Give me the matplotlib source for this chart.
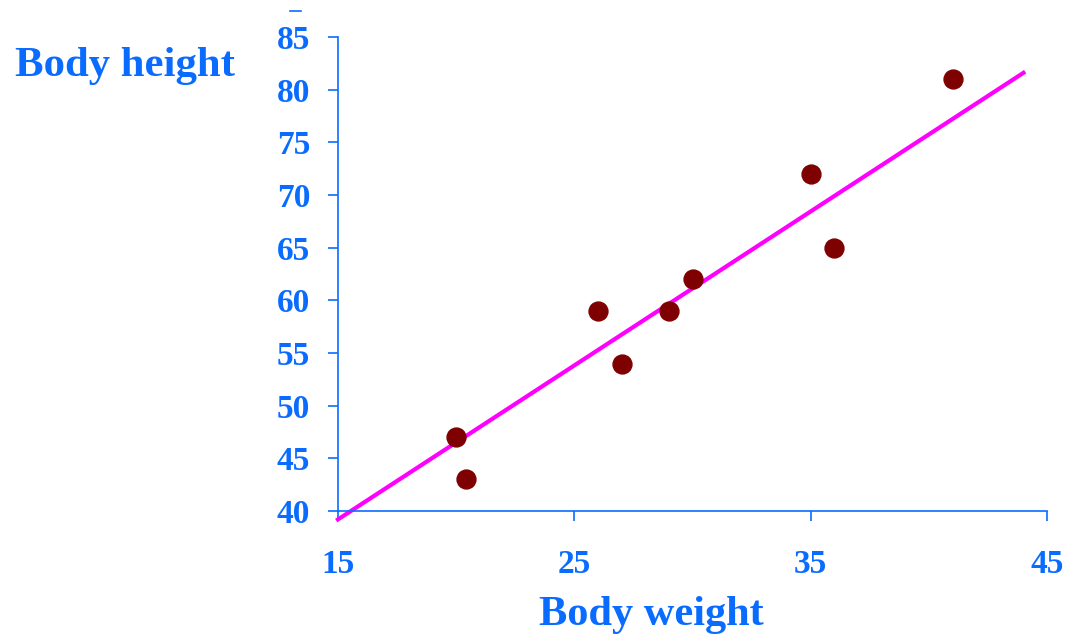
import matplotlib.pyplot as plt
from matplotlib.lines import Line2D

# data
weight = [20, 20.4, 26, 27, 29, 30, 35, 36, 41]
height = [47, 43, 59, 54, 59, 62, 72, 65, 81]
# the straight line as drawn (endpoints)
line_x = [15, 44]
line_y = [39.2, 81.6]
xticks = [15, 25, 35, 45]
yticks = [40, 45, 50, 55, 60, 65, 70, 75, 80, 85]

blue = '#0a6cff'
plt.rcParams['font.family'] = ['Liberation Serif', 'DejaVu Serif']
plt.rcParams['font.weight'] = 'bold'

fig = plt.figure(figsize=(10.76, 6.37), dpi=100)
ax = fig.add_axes([0.3141, 0.1978, 0.659, 0.7441])

ax.plot(line_x, line_y, color='#ff00ff', lw=3, clip_on=False, zorder=2)
ax.scatter(weight, height, s=185, color='#7f0000', zorder=3, clip_on=False)

ax.set_xlim(15, 45)
ax.set_ylim(40, 85)
ax.set_xticks(xticks)
ax.set_yticks(yticks)

for s in ['top', 'right']:
    ax.spines[s].set_visible(False)
for s in ['left', 'bottom']:
    ax.spines[s].set_color(blue)
    ax.spines[s].set_linewidth(1.2)

ax.tick_params(axis='y', colors=blue, length=7, width=1.2, pad=13, labelsize=24)
ax.tick_params(axis='x', colors=blue, length=7, width=1.2, pad=20, labelsize=24)
for lab in ax.get_xticklabels() + ax.get_yticklabels():
    lab.set_fontweight('bold')

fig.text(0.0135, 0.897, 'Body height', color=blue, fontsize=30.8, fontweight='bold',
         ha='left', va='center')
fig.text(0.605, 0.035, 'Body weight', color=blue, fontsize=30.5, fontweight='bold',
         ha='center', va='center')

# small stray dash at the top left of the axis
fig.add_artist(Line2D([0.2695, 0.2795], [0.9835, 0.9835], color=blue, lw=1.2,
                      transform=fig.transFigure))

fig.savefig('out.png', dpi=100)
